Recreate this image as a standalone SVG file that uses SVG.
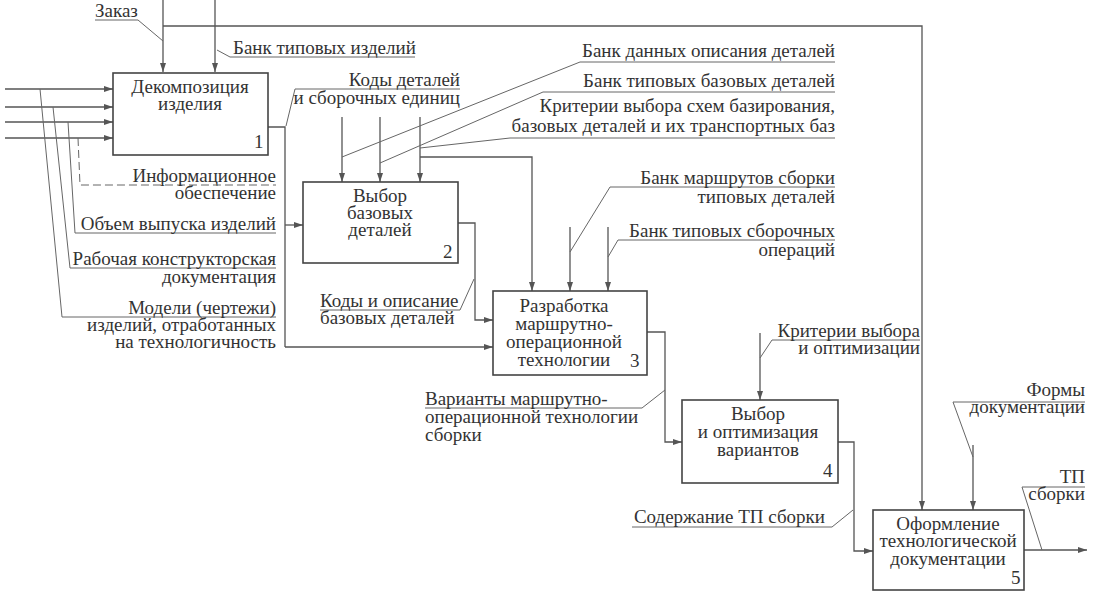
<svg xmlns="http://www.w3.org/2000/svg" width="1095" height="601" viewBox="0 0 1095 601" xml:lang="ru">
<defs>
<marker id="ah" markerWidth="9" markerHeight="7" refX="9" refY="3.5" orient="auto" markerUnits="userSpaceOnUse">
<path d="M0,0.5 L9,3.5 L0,6.5 Z" fill="#555"/>
</marker>
</defs>
<style>
.box{fill:#fff;stroke:#444;stroke-width:1.6}
.c{fill:none;stroke:#555;stroke-width:1.3}
.a{fill:none;stroke:#555;stroke-width:1.3;marker-end:url(#ah)}
.l{fill:none;stroke:#666;stroke-width:1}
.d{fill:none;stroke:#666;stroke-width:1;stroke-dasharray:8,4}
</style>
<rect width="1095" height="601" fill="#fff"/>

<g id="connectors">
<path class="a" d="M163,0 V72"/>
<path class="a" d="M163,26 H922 V510"/>
<path class="a" d="M215,0 V72"/>
<path class="a" d="M5,89 H113"/>
<path class="a" d="M5,107 H113"/>
<path class="a" d="M5,122 H113"/>
<path class="a" d="M5,138 H113"/>
<path class="c" d="M268,127 H285 V347"/>
<path class="a" d="M285,225 H303"/>
<path class="a" d="M285,347 H493"/>
<path class="a" d="M342,117 V182"/>
<path class="a" d="M380,117 V182"/>
<path class="a" d="M420,117 V182"/>
<path class="a" d="M420,157 H532 V291"/>
<path class="a" d="M458,223 H475 V320 H493"/>
<path class="a" d="M570,227 V291"/>
<path class="a" d="M608,227 V291"/>
<path class="a" d="M647,332 H665 V442 H682"/>
<path class="a" d="M760,333 V400"/>
<path class="a" d="M838,442 H854 V551 H873"/>
<path class="a" d="M973,445 V510"/>
<path class="a" d="M1024,550 H1087"/>

<path class="l" d="M95,20 H138 L163,41"/>
<path class="l" d="M415,57 H230 L217,50"/>
<path class="l" d="M460,89 H295 L286,126"/>
<path class="l" d="M342,157 L580,62 H835"/>
<path class="l" d="M380,163 L543,92 H835"/>
<path class="l" d="M420,148 L510,138 H835"/>
<path class="l" d="M570,252 L610,187 H835"/>
<path class="l" d="M608,257 L618,240 H835"/>
<path class="l" d="M320,310 H460 L474,279"/>
<path class="l" d="M425,408 H642 L665,390"/>
<path class="l" d="M760,358 L772,340 H920"/>
<path class="l" d="M632,527 H832 L853,510"/>
<path class="l" d="M973,457 L953,402 H1085"/>
<path class="l" d="M1042,550 L1022,487 H1085"/>
<path class="l" d="M40,89 L62,317 H276"/>
<path class="l" d="M53,107 L70,268 H276"/>
<path class="l" d="M68,122 L75,233 H276"/>
<path class="d" d="M78,138 L80,185 H276"/>
</g>

<g id="node1">
<rect class="box" x="113" y="73" width="155" height="82"/>
<text style="font-family:'Liberation Serif','Times New Roman',serif;font-size:19px;fill:#333;text-anchor:middle" x="190" y="93">Декомпозиция</text>
<text style="font-family:'Liberation Serif','Times New Roman',serif;font-size:19px;fill:#333;text-anchor:middle" x="190" y="110">изделия</text>
<text style="font-family:'Liberation Serif','Times New Roman',serif;font-size:19px;fill:#333" x="254" y="148">1</text>
</g>
<g id="node2">
<rect class="box" x="303" y="182" width="155" height="81"/>
<text style="font-family:'Liberation Serif','Times New Roman',serif;font-size:19px;fill:#333;text-anchor:middle" x="380" y="202">Выбор</text>
<text style="font-family:'Liberation Serif','Times New Roman',serif;font-size:19px;fill:#333;text-anchor:middle" x="380" y="219">базовых</text>
<text style="font-family:'Liberation Serif','Times New Roman',serif;font-size:19px;fill:#333;text-anchor:middle" x="380" y="236">деталей</text>
<text style="font-family:'Liberation Serif','Times New Roman',serif;font-size:19px;fill:#333" x="443" y="258">2</text>
</g>
<g id="node3">
<rect class="box" x="493" y="291" width="154" height="84"/>
<text style="font-family:'Liberation Serif','Times New Roman',serif;font-size:19px;fill:#333;text-anchor:middle" x="564" y="312">Разработка</text>
<text style="font-family:'Liberation Serif','Times New Roman',serif;font-size:19px;fill:#333;text-anchor:middle" x="564" y="330">маршрутно-</text>
<text style="font-family:'Liberation Serif','Times New Roman',serif;font-size:19px;fill:#333;text-anchor:middle" x="564" y="348">операционной</text>
<text style="font-family:'Liberation Serif','Times New Roman',serif;font-size:19px;fill:#333;text-anchor:middle" x="564" y="366">технологии</text>
<text style="font-family:'Liberation Serif','Times New Roman',serif;font-size:19px;fill:#333" x="630" y="367">3</text>
</g>
<g id="node4">
<rect class="box" x="682" y="400" width="156" height="83"/>
<text style="font-family:'Liberation Serif','Times New Roman',serif;font-size:19px;fill:#333;text-anchor:middle" x="758" y="420">Выбор</text>
<text style="font-family:'Liberation Serif','Times New Roman',serif;font-size:19px;fill:#333;text-anchor:middle" x="758" y="438">и оптимизация</text>
<text style="font-family:'Liberation Serif','Times New Roman',serif;font-size:19px;fill:#333;text-anchor:middle" x="758" y="456">вариантов</text>
<text style="font-family:'Liberation Serif','Times New Roman',serif;font-size:19px;fill:#333" x="823" y="477">4</text>
</g>
<g id="node5">
<rect class="box" x="873" y="510" width="151" height="80"/>
<text style="font-family:'Liberation Serif','Times New Roman',serif;font-size:19px;fill:#333;text-anchor:middle" x="948" y="530">Оформление</text>
<text style="font-family:'Liberation Serif','Times New Roman',serif;font-size:19px;fill:#333;text-anchor:middle" x="948" y="547">технологической</text>
<text style="font-family:'Liberation Serif','Times New Roman',serif;font-size:19px;fill:#333;text-anchor:middle" x="948" y="565">документации</text>
<text style="font-family:'Liberation Serif','Times New Roman',serif;font-size:19px;fill:#333" x="1011" y="584">5</text>
</g>

<g id="labels">
<text style="font-family:'Liberation Serif','Times New Roman',serif;font-size:19px;fill:#333" x="95" y="17">Заказ</text>
<text style="font-family:'Liberation Serif','Times New Roman',serif;font-size:19px;fill:#333" x="233" y="54">Банк типовых изделий</text>
<text style="font-family:'Liberation Serif','Times New Roman',serif;font-size:19px;fill:#333;text-anchor:end" x="460" y="86">Коды деталей</text>
<text style="font-family:'Liberation Serif','Times New Roman',serif;font-size:19px;fill:#333;text-anchor:end" x="460" y="104">и сборочных единиц</text>
<text style="font-family:'Liberation Serif','Times New Roman',serif;font-size:19px;fill:#333;text-anchor:end" x="835" y="57">Банк данных описания деталей</text>
<text style="font-family:'Liberation Serif','Times New Roman',serif;font-size:19px;fill:#333;text-anchor:end" x="835" y="87">Банк типовых базовых деталей</text>
<text style="font-family:'Liberation Serif','Times New Roman',serif;font-size:19px;fill:#333;text-anchor:end" x="835" y="112">Критерии выбора схем базирования,</text>
<text style="font-family:'Liberation Serif','Times New Roman',serif;font-size:19px;fill:#333;text-anchor:end" x="835" y="132">базовых деталей и их транспортных баз</text>
<text style="font-family:'Liberation Serif','Times New Roman',serif;font-size:19px;fill:#333;text-anchor:end" x="835" y="184">Банк маршрутов сборки</text>
<text style="font-family:'Liberation Serif','Times New Roman',serif;font-size:19px;fill:#333;text-anchor:end" x="835" y="203">типовых деталей</text>
<text style="font-family:'Liberation Serif','Times New Roman',serif;font-size:19px;fill:#333;text-anchor:end" x="835" y="237">Банк типовых сборочных</text>
<text style="font-family:'Liberation Serif','Times New Roman',serif;font-size:19px;fill:#333;text-anchor:end" x="835" y="256">операций</text>
<text style="font-family:'Liberation Serif','Times New Roman',serif;font-size:19px;fill:#333;text-anchor:end" x="276" y="182">Информационное</text>
<text style="font-family:'Liberation Serif','Times New Roman',serif;font-size:19px;fill:#333;text-anchor:end" x="276" y="199">обеспечение</text>
<text style="font-family:'Liberation Serif','Times New Roman',serif;font-size:19px;fill:#333;text-anchor:end" x="276" y="230">Объем выпуска изделий</text>
<text style="font-family:'Liberation Serif','Times New Roman',serif;font-size:19px;fill:#333;text-anchor:end" x="276" y="265">Рабочая конструкторская</text>
<text style="font-family:'Liberation Serif','Times New Roman',serif;font-size:19px;fill:#333;text-anchor:end" x="276" y="283">документация</text>
<text style="font-family:'Liberation Serif','Times New Roman',serif;font-size:19px;fill:#333;text-anchor:end" x="276" y="314">Модели (чертежи)</text>
<text style="font-family:'Liberation Serif','Times New Roman',serif;font-size:19px;fill:#333;text-anchor:end" x="276" y="331">изделий, отработанных</text>
<text style="font-family:'Liberation Serif','Times New Roman',serif;font-size:19px;fill:#333;text-anchor:end" x="276" y="348">на технологичность</text>
<text style="font-family:'Liberation Serif','Times New Roman',serif;font-size:19px;fill:#333" x="320" y="307">Коды и описание</text>
<text style="font-family:'Liberation Serif','Times New Roman',serif;font-size:19px;fill:#333" x="320" y="324">базовых деталей</text>
<text style="font-family:'Liberation Serif','Times New Roman',serif;font-size:19px;fill:#333" x="425" y="405">Варианты маршрутно-</text>
<text style="font-family:'Liberation Serif','Times New Roman',serif;font-size:19px;fill:#333" x="425" y="423">операционной технологии</text>
<text style="font-family:'Liberation Serif','Times New Roman',serif;font-size:19px;fill:#333" x="425" y="441">сборки</text>
<text style="font-family:'Liberation Serif','Times New Roman',serif;font-size:19px;fill:#333;text-anchor:end" x="920" y="337">Критерии выбора</text>
<text style="font-family:'Liberation Serif','Times New Roman',serif;font-size:19px;fill:#333;text-anchor:end" x="920" y="354">и оптимизации</text>
<text style="font-family:'Liberation Serif','Times New Roman',serif;font-size:19px;fill:#333;text-anchor:end" x="825" y="523">Содержание ТП сборки</text>
<text style="font-family:'Liberation Serif','Times New Roman',serif;font-size:19px;fill:#333;text-anchor:end" x="1085" y="396">Формы</text>
<text style="font-family:'Liberation Serif','Times New Roman',serif;font-size:19px;fill:#333;text-anchor:end" x="1085" y="413">документации</text>
<text style="font-family:'Liberation Serif','Times New Roman',serif;font-size:19px;fill:#333;text-anchor:end" x="1085" y="483">ТП</text>
<text style="font-family:'Liberation Serif','Times New Roman',serif;font-size:19px;fill:#333;text-anchor:end" x="1085" y="500">сборки</text>
</g>
</svg>
